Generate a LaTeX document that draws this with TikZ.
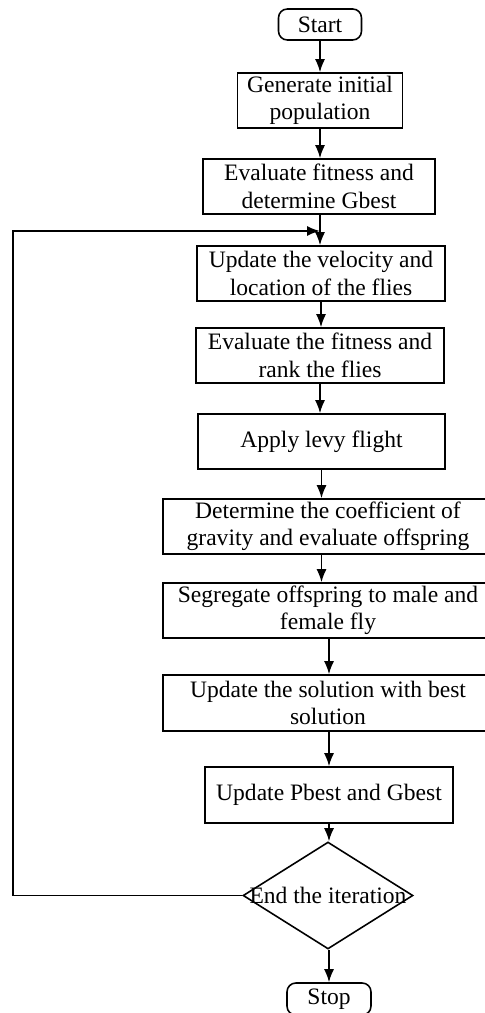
\documentclass[tikz,border=0pt]{standalone}
\usepackage{fontspec}
\setmainfont{Liberation Serif}
\usetikzlibrary{shapes.geometric}
\usetikzlibrary{arrows.meta}

\begin{document}
\begin{tikzpicture}[x = 0.02cm, y = -0.02cm, line width = 0.9pt,
  every node/.style = {font = \fontsize{13.4}{15.6}\selectfont, align = center, inner sep = 0},
  box/.style = {draw, rectangle, minimum height = 1.1cm},
  term/.style = {draw, rounded corners = 5pt, minimum width = 1.66cm, minimum height = 0.62cm},
  decision/.style = {draw, diamond, minimum width = 3.4cm, minimum height = 2.14cm},
  arr/.style = {-{Latex[length = 2.6mm, width = 2mm]}}]
  \useasboundingbox (0, 0) rectangle (484, 1013);
  \node[term] (start) at (320, 24.5) {Start};
  \node[box, minimum width = 3.3cm] (gen) at (320, 100.5) {Generate initial\\population};
  \node[box, minimum width = 4.64cm] (evalg) at (319, 186.5) {Evaluate fitness and\\determine Gbest};
  \node[box, minimum width = 4.96cm] (upvel) at (321, 273.5) {Update the velocity and\\location of the flies};
  \node[box, minimum width = 4.96cm] (rank) at (320, 355.5) {Evaluate the fitness and\\rank the flies};
  \node[box, minimum width = 4.94cm] (levy) at (321.5, 441.5) {Apply levy flight};
  \node[box, minimum width = 6.6cm] (coef) at (328, 526.5) {Determine the coefficient of\\gravity and evaluate offspring};
  \node[box, minimum width = 6.6cm] (segr) at (328, 610.5) {Segregate offspring to male and\\female fly};
  \node[box, minimum width = 6.6cm, minimum height = 1.12cm] (upsol) at (328, 703) {Update the solution with best\\solution};
  \node[box, minimum width = 4.96cm, minimum height = 1.12cm] (pbest) at (329, 795) {Update Pbest and Gbest};
  \node[decision, label = {center:End the iteration}] (dec) at (328, 895.5) {};
  \node[term, minimum width = 1.68cm, minimum height = 0.64cm] (stop) at (329, 999) {Stop};
  \coordinate (corner) at (13, 231);
  \coordinate (join) at (320, 231);

  \draw[arr] (start) -- (gen);
  \draw[arr] (gen) -- (gen |- evalg.north);
  \draw[arr] (evalg.south -| gen) -- (gen |- upvel.north);
  \draw[arr] (upvel.south) -- (upvel.south |- rank.north);
  \draw[arr] (rank.south) -- (rank.south |- levy.north);
  \draw[arr] (levy.south) -- (levy.south |- coef.north);
  \draw[arr] (coef.south -| levy) -- (levy |- segr.north);
  \draw[arr] (pbest.south |- segr.south) -- (pbest.south |- upsol.north);
  \draw[arr] (pbest.south |- upsol.south) -- (pbest.north);
  \draw[arr] (pbest.south) -- (pbest.south |- dec.north);
  \draw[arr] (dec.south -| pbest) -- (pbest |- stop.north);
  \draw[arr] (dec.west) -| (corner) -- (join);
\end{tikzpicture}
\end{document}
